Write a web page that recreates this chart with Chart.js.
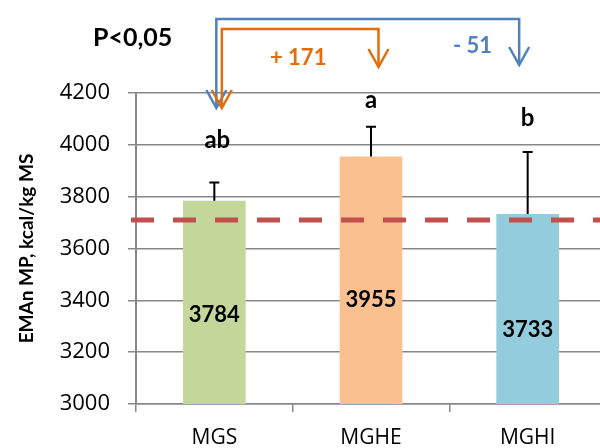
<!DOCTYPE html>
<html>
<head>
<meta charset="utf-8">
<script src="https://cdn.jsdelivr.net/npm/chart.js@4/dist/chart.umd.min.js"></script>
<style>
  html, body { margin: 0; padding: 0; background: #fff; overflow: hidden; }
  #wrap { width: 606px; height: 448px; }
</style>
</head>
<body>
<div id="wrap"><canvas id="chart" width="606" height="448"></canvas></div>
<script>
const categories = ["MGS", "MGHE", "MGHI"];
const values = [3784, 3955, 3733];
const errorTops = [3855, 4070, 3972];
const letters = ["ab", "a", "b"];
const barColors = ["#C4D79B", "#FAC090", "#93CDDD"];
const referenceLine = 3710;
const pLabel = "P<0,05";
const diffLabels = ["+ 171", "- 51"];

// label placement (value units) for the numbers inside bars and the letters above
const insideLabelAt = [3316, 3374, 3259];
const letterAt = [3988, 4142, 4073];

const BOLD = "'Lato', 'Open Sans', sans-serif";
const REG = "'Open Sans', sans-serif";

function arrowHead(ctx, x, y) {
  ctx.beginPath();
  ctx.moveTo(x - 10, y - 18);
  ctx.lineTo(x, y);
  ctx.lineTo(x + 10, y - 18);
  ctx.stroke();
}

const extras = {
  id: "extras",
  afterDatasetsDraw(chart) {
    const ctx = chart.ctx;
    const xs = chart.scales.x;
    const ys = chart.scales.y;
    const top = chart.chartArea.top;
    ctx.save();

    // error bars (upper only)
    ctx.strokeStyle = "#000";
    ctx.lineWidth = 2;
    values.forEach((v, i) => {
      const x = xs.getPixelForValue(i);
      const y0 = ys.getPixelForValue(v);
      const y1 = ys.getPixelForValue(errorTops[i]);
      ctx.beginPath();
      ctx.moveTo(x, y0);
      ctx.lineTo(x, y1);
      ctx.moveTo(x - 5, y1);
      ctx.lineTo(x + 5, y1);
      ctx.stroke();
    });

    // dashed reference line
    const yr = ys.getPixelForValue(referenceLine);
    ctx.strokeStyle = "#C0504D";
    ctx.lineWidth = 5;
    ctx.setLineDash([23, 19]);
    ctx.beginPath();
    ctx.moveTo(chart.chartArea.left - 5, yr);
    ctx.lineTo(chart.width, yr);
    ctx.stroke();
    ctx.setLineDash([]);

    // values inside bars
    ctx.fillStyle = "#000";
    ctx.textAlign = "center";
    ctx.textBaseline = "alphabetic";
    ctx.font = "bold 22px " + BOLD;
    values.forEach((v, i) => {
      ctx.fillText(String(v), xs.getPixelForValue(i), ys.getPixelForValue(insideLabelAt[i]));
    });

    // significance letters
    ctx.font = "bold 24px " + BOLD;
    letters.forEach((t, i) => {
      ctx.fillText(t, xs.getPixelForValue(i) + (i === 0 ? 3 : 0), ys.getPixelForValue(letterAt[i]));
    });

    // comparison arrows
    const c0 = xs.getPixelForValue(0);
    const c1 = xs.getPixelForValue(1);
    const c2 = xs.getPixelForValue(2);
    ctx.lineWidth = 2.5;
    ctx.lineJoin = "miter";

    ctx.strokeStyle = "#4F81BD";
    ctx.beginPath();
    ctx.moveTo(c0 + 2, top + 14);
    ctx.lineTo(c0 + 2, top - 74);
    ctx.lineTo(c2 - 8.5, top - 74);
    ctx.lineTo(c2 - 8.5, top - 28);
    ctx.stroke();
    arrowHead(ctx, c0 + 2, top + 15);
    arrowHead(ctx, c2 - 8.5, top - 28);

    ctx.strokeStyle = "#E46C0A";
    ctx.beginPath();
    ctx.moveTo(c0 + 7.5, top + 14);
    ctx.lineTo(c0 + 7.5, top - 64);
    ctx.lineTo(c1 + 7.5, top - 64);
    ctx.lineTo(c1 + 7.5, top - 26);
    ctx.stroke();
    arrowHead(ctx, c0 + 7.5, top + 15);
    arrowHead(ctx, c1 + 7.5, top - 26);

    // texts above the plot
    ctx.textAlign = "left";
    ctx.fillStyle = "#000";
    ctx.font = "bold 25px " + BOLD;
    ctx.fillText(pLabel, 93, top - 47);
    ctx.font = "bold 22px " + BOLD;
    ctx.fillStyle = "#E46C0A";
    ctx.fillText(diffLabels[0], 270, top - 28);
    ctx.fillStyle = "#4F81BD";
    ctx.fillText(diffLabels[1], 453, top - 40);

    ctx.restore();
  }
};

new Chart(document.getElementById("chart"), {
  type: "bar",
  data: {
    labels: categories,
    datasets: [{
      data: values,
      backgroundColor: barColors,
      borderWidth: 0,
      categoryPercentage: 1,
      barPercentage: 0.4
    }]
  },
  options: {
    responsive: false,
    animation: false,
    layout: { padding: { top: 93, right: 0, bottom: 0, left: 0 } },
    plugins: {
      legend: { display: false },
      tooltip: { enabled: false }
    },
    scales: {
      x: {
        grid: {
          offset: true,
          drawOnChartArea: false,
          drawTicks: true,
          tickLength: 8,
          color: "#888",
          lineWidth: 1.5
        },
        border: { display: true, color: "#888", width: 1.5 },
        ticks: {
          color: "#000",
          font: { family: REG, size: 21 },
          padding: 13
        },
        afterFit(s) { s.height = 44; }
      },
      y: {
        min: 3000,
        max: 4200,
        grid: {
          color: "#888",
          lineWidth: 1.5,
          tickLength: 8
        },
        border: { display: true, color: "#888", width: 2 },
        ticks: {
          stepSize: 200,
          color: "#000",
          font: { family: REG, size: 22 },
          padding: 18,
          callback: (v) => String(v)
        },
        title: {
          display: true,
          text: "EMAn MP, kcal/kg MS",
          color: "#000",
          font: { family: BOLD, size: 19, weight: "bold" },
          padding: { top: 15, bottom: 0 }
        },
        afterFit(s) { s.width = 136; }
      }
    }
  },
  plugins: [extras]
});
</script>
</body>
</html>
